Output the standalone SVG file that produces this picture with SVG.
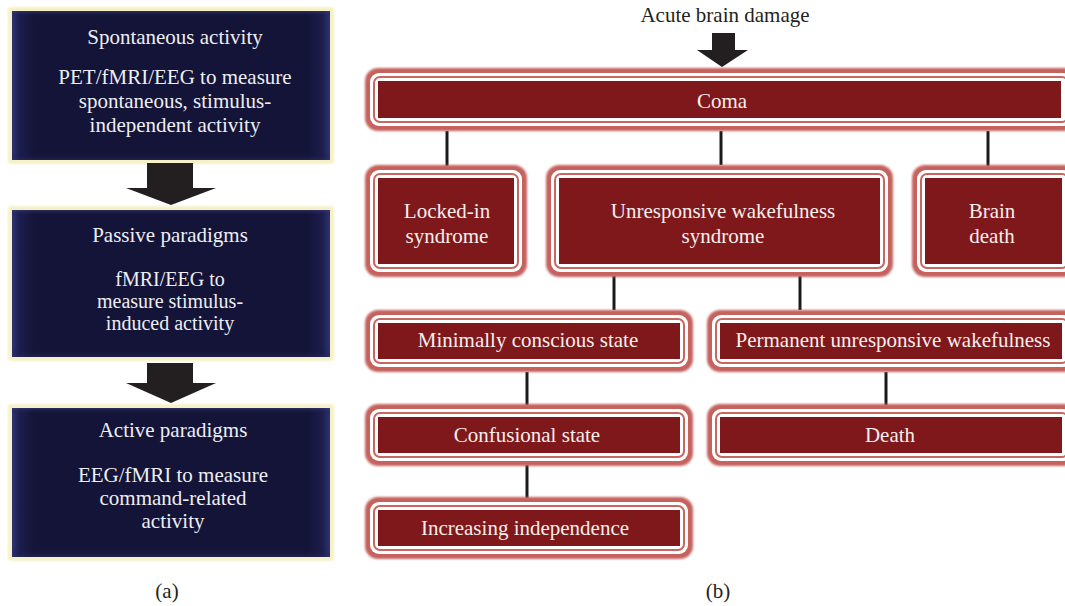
<svg xmlns="http://www.w3.org/2000/svg" width="1065" height="606" viewBox="0 0 1065 606">
<defs>
<linearGradient id="navyH" x1="0" y1="0" x2="1" y2="0">
<stop offset="0" stop-color="#2e3274"/>
<stop offset="0.025" stop-color="#1c1d4c"/>
<stop offset="0.07" stop-color="#141438"/>
<stop offset="0.93" stop-color="#141438"/>
<stop offset="0.975" stop-color="#1c1d4c"/>
<stop offset="1" stop-color="#2e3274"/>
</linearGradient>
<linearGradient id="navyV" x1="0" y1="0" x2="0" y2="1">
<stop offset="0" stop-color="#3a3e80" stop-opacity="0.6"/>
<stop offset="0.04" stop-color="#141438" stop-opacity="0"/>
<stop offset="0.95" stop-color="#141438" stop-opacity="0"/>
<stop offset="1" stop-color="#2a2d68" stop-opacity="0.5"/>
</linearGradient>
<filter id="soft" x="-5%" y="-10%" width="110%" height="120%">
<feGaussianBlur stdDeviation="1.1"/>
</filter>
<filter id="glow" x="-5%" y="-5%" width="110%" height="110%">
<feGaussianBlur stdDeviation="1"/>
</filter>
</defs>
<style>
text{font-family:"Liberation Serif","Times New Roman",serif;font-size:21px;text-anchor:middle}
.lt{fill:#eeeef2}
.sm{font-size:20px}
.rt{fill:#f7eeee}
.bt{fill:#231f20}
.cream{fill:#f5f1c4}
.navy{fill:url(#navyH)}
.navyv{fill:url(#navyV)}
.r1{fill:#c5625d}
.w{fill:#ffffff}
.r2{fill:#c86761}
.dk{fill:#7f181a}
.arr{fill:#231f20}
.con line{stroke:#1a1a1a;stroke-width:3}
</style>
<rect width="1065" height="606" fill="#ffffff"/>

<!-- Panel (a) -->
<g id="spontaneous">
<rect class="cream" x="8" y="7" width="326" height="157" rx="3" filter="url(#glow)"/>
<rect class="navy" x="12" y="11" width="318" height="149"/>
<rect class="navyv" x="12" y="11" width="318" height="149"/>
<text class="lt" x="175" y="44">Spontaneous activity</text>
<text class="lt" x="175" y="84">PET/fMRI/EEG to measure</text>
<text class="lt" x="175" y="108">spontaneous, stimulus-</text>
<text class="lt" x="175" y="132">independent activity</text>
</g>
<g id="passive">
<rect class="cream" x="8" y="206" width="326" height="155" rx="3" filter="url(#glow)"/>
<rect class="navy" x="12" y="210" width="318" height="147"/>
<rect class="navyv" x="12" y="210" width="318" height="147"/>
<text class="lt" x="170" y="242">Passive paradigms</text>
<text class="lt sm" x="170" y="286">fMRI/EEG to</text>
<text class="lt sm" x="170" y="308">measure stimulus-</text>
<text class="lt sm" x="170" y="330">induced activity</text>
</g>
<g id="active">
<rect class="cream" x="8" y="404" width="326" height="157" rx="3" filter="url(#glow)"/>
<rect class="navy" x="12" y="408" width="318" height="149"/>
<rect class="navyv" x="12" y="408" width="318" height="149"/>
<text class="lt" x="173" y="437">Active paradigms</text>
<text class="lt" x="173" y="482">EEG/fMRI to measure</text>
<text class="lt" x="173" y="505">command-related</text>
<text class="lt" x="173" y="528">activity</text>
</g>
<g id="arrows-a">
<polygon class="arr" points="147,163 193,163 193,188 216,188 171,205 126,188 147,188"/>
<polygon class="arr" points="147,363 193,363 193,383 216,383 171,403 126,383 147,383"/>
</g>
<text class="bt" x="167" y="598">(a)</text>

<!-- Panel (b) -->
<text class="bt" x="725" y="22">Acute brain damage</text>
<polygon class="arr" points="712,33 735,33 735,50 748,50 722,67 697,50 712,50"/>

<g id="connectors" class="con">
<line x1="447" y1="131" x2="447" y2="166"/>
<line x1="721" y1="131" x2="721" y2="165"/>
<line x1="988" y1="131" x2="988" y2="166"/>
<line x1="614" y1="276" x2="614" y2="310"/>
<line x1="800" y1="276" x2="800" y2="310"/>
<line x1="527" y1="372" x2="527" y2="405"/>
<line x1="886" y1="372" x2="886" y2="405"/>
<line x1="527" y1="465" x2="527" y2="498"/>
</g>

<g id="coma">
<rect class="r1" x="365" y="68" width="712" height="63" rx="13" filter="url(#soft)"/>
<rect class="w" x="370" y="73" width="702" height="53" rx="9"/>
<rect class="r2" x="373" y="76" width="696" height="47" rx="7"/>
<rect class="w" x="375" y="78" width="692" height="43" rx="5"/>
<rect class="dk" x="378" y="81" width="683" height="37"/>
<text class="rt" x="722" y="108">Coma</text>
</g>

<g id="locked-in">
<rect class="r1" x="365" y="165" width="162" height="112" rx="13" filter="url(#soft)"/>
<rect class="w" x="370" y="170" width="152" height="102" rx="9"/>
<rect class="r2" x="373" y="173" width="146" height="96" rx="7"/>
<rect class="w" x="375" y="175" width="142" height="92" rx="5"/>
<rect class="dk" x="378" y="178" width="136" height="86"/>
<text class="rt" x="447" y="218">Locked-in</text>
<text class="rt" x="447" y="243">syndrome</text>
</g>

<g id="unresponsive">
<rect class="r1" x="546" y="165" width="347" height="112" rx="13" filter="url(#soft)"/>
<rect class="w" x="551" y="170" width="337" height="102" rx="9"/>
<rect class="r2" x="554" y="173" width="331" height="96" rx="7"/>
<rect class="w" x="556" y="175" width="327" height="92" rx="5"/>
<rect class="dk" x="559" y="178" width="321" height="86"/>
<text class="rt" x="723" y="218">Unresponsive wakefulness</text>
<text class="rt" x="723" y="243">syndrome</text>
</g>

<g id="brain-death">
<rect class="r1" x="912" y="165" width="165" height="112" rx="13" filter="url(#soft)"/>
<rect class="w" x="917" y="170" width="155" height="102" rx="9"/>
<rect class="r2" x="920" y="173" width="149" height="96" rx="7"/>
<rect class="w" x="922" y="175" width="145" height="92" rx="5"/>
<rect class="dk" x="925" y="178" width="137" height="86"/>
<text class="rt" x="992" y="218">Brain</text>
<text class="rt" x="992" y="243">death</text>
</g>

<g id="minimally-conscious">
<rect class="r1" x="365" y="310" width="328" height="62" rx="13" filter="url(#soft)"/>
<rect class="w" x="370" y="315" width="318" height="52" rx="9"/>
<rect class="r2" x="373" y="318" width="312" height="46" rx="7"/>
<rect class="w" x="375" y="320" width="308" height="42" rx="5"/>
<rect class="dk" x="378" y="323" width="302" height="36"/>
<text class="rt" x="528" y="347">Minimally conscious state</text>
</g>

<g id="permanent">
<rect class="r1" x="707" y="310" width="370" height="62" rx="13" filter="url(#soft)"/>
<rect class="w" x="712" y="315" width="360" height="52" rx="9"/>
<rect class="r2" x="715" y="318" width="354" height="46" rx="7"/>
<rect class="w" x="717" y="320" width="350" height="42" rx="5"/>
<rect class="dk" x="720" y="323" width="342" height="36"/>
<text class="rt" x="893" y="347">Permanent unresponsive wakefulness</text>
</g>

<g id="confusional">
<rect class="r1" x="365" y="404" width="328" height="62" rx="13" filter="url(#soft)"/>
<rect class="w" x="370" y="409" width="318" height="52" rx="9"/>
<rect class="r2" x="373" y="412" width="312" height="46" rx="7"/>
<rect class="w" x="375" y="414" width="308" height="42" rx="5"/>
<rect class="dk" x="378" y="417" width="302" height="36"/>
<text class="rt" x="527" y="442">Confusional state</text>
</g>

<g id="death">
<rect class="r1" x="707" y="404" width="370" height="62" rx="13" filter="url(#soft)"/>
<rect class="w" x="712" y="409" width="360" height="52" rx="9"/>
<rect class="r2" x="715" y="412" width="354" height="46" rx="7"/>
<rect class="w" x="717" y="414" width="350" height="42" rx="5"/>
<rect class="dk" x="720" y="417" width="342" height="36"/>
<text class="rt" x="890" y="442">Death</text>
</g>

<g id="increasing-independence">
<rect class="r1" x="365" y="497" width="328" height="62" rx="13" filter="url(#soft)"/>
<rect class="w" x="370" y="502" width="318" height="52" rx="9"/>
<rect class="r2" x="373" y="505" width="312" height="46" rx="7"/>
<rect class="w" x="375" y="507" width="308" height="42" rx="5"/>
<rect class="dk" x="378" y="510" width="302" height="36"/>
<text class="rt" x="525" y="535">Increasing independence</text>
</g>

<text class="bt" x="718" y="598">(b)</text>
</svg>
